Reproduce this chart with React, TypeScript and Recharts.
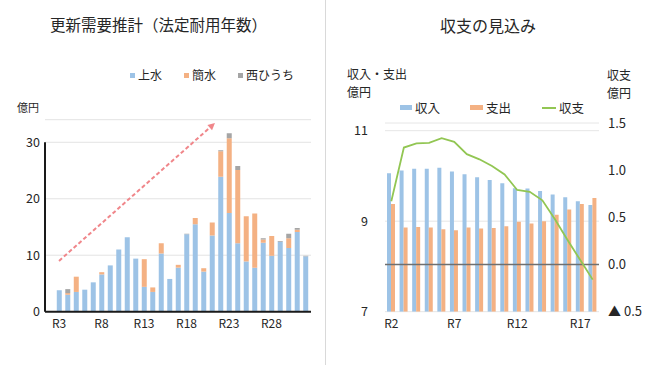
import React from 'react';
import {
  ComposedChart,
  Bar,
  Line,
  XAxis,
  YAxis,
  CartesianGrid,
  ReferenceLine,
} from 'recharts';

// 更新需要推計（法定耐用年数） 億円
const YEARS_L = [3, 4, 5, 6, 7, 8, 9, 10, 11, 12, 13, 14, 15, 16, 17, 18, 19, 20, 21, 22, 23, 24, 25, 26, 27, 28, 29, 30, 31, 32];
const JOSUI = [3.8, 3.0, 3.5, 3.9, 5.2, 6.6, 8.2, 11.0, 13.2, 9.4, 4.4, 3.5, 10.3, 5.8, 7.8, 13.7, 15.5, 7.1, 13.5, 23.9, 17.5, 12.1, 8.9, 7.8, 12.2, 9.9, 12.4, 11.3, 14.1, 9.8];
const KANSUI = [0, 0.3, 2.7, 0, 0, 0.4, 0, 0, 0, 0, 4.9, 0.8, 1.8, 0, 0.5, 0, 1.1, 0.6, 2.3, 4.5, 13.2, 13.0, 8.0, 9.6, 0.6, 3.5, 0, 1.7, 0.4, 0];
const NISHI = [0, 0.7, 0, 0, 0, 0, 0, 0, 0, 0, 0, 0, 0, 0, 0, 0.1, 0, 0, 0, 0.2, 0.9, 0.7, 0, 0, 0.2, 0, 0.1, 0.8, 0.3, 0.1];
const TICKS_L_X = [3, 8, 13, 18, 23, 28];
const TICKS_L_Y = [0, 10, 20, 30];
// 傾向矢印 (年, 億円)
const ARROW_FROM = { x: 3, y: 9.0 };
const ARROW_TO = { x: 21.35, y: 33.4 };

// 収支の見込み
const CATS_R = ['R2', 'R3', 'R4', 'R5', 'R6', 'R7', 'R8', 'R9', 'R10', 'R11', 'R12', 'R13', 'R14', 'R15', 'R16', 'R17', 'R18'];
const INCOME = [10.06, 10.12, 10.16, 10.16, 10.18, 10.1, 10.04, 9.97, 9.91, 9.84, 9.73, 9.72, 9.67, 9.59, 9.53, 9.44, 9.36];
const EXPENSE = [9.38, 8.86, 8.87, 8.86, 8.82, 8.8, 8.86, 8.84, 8.85, 8.89, 8.99, 8.95, 9.0, 9.14, 9.26, 9.38, 9.51];
const BALANCE = [0.67, 1.24, 1.285, 1.29, 1.34, 1.3, 1.17, 1.115, 1.045, 0.955, 0.79, 0.77, 0.68, 0.48, 0.26, 0.05, -0.16];
const TICKS_R_LEFT = [7, 9, 11];
const TICKS_R_RIGHT = [-0.5, 0, 0.5, 1, 1.5];

const BLUE = '#9dc3e6';
const ORANGE = '#f4b183';
const GRAY = '#a5a5a5';
const GREEN = '#92c653';
const ARROW = '#f0868a';
const FONT = '"Noto Sans CJK JP", "Noto Sans", sans-serif';
const TEXT = '#262626';

const leftData = YEARS_L.map((yr, i) => ({
  yr,
  josui: JOSUI[i],
  kansui: KANSUI[i],
  nishi: NISHI[i],
}));

const rightData = CATS_R.map((c, i) => ({
  cat: c,
  income: INCOME[i],
  expense: EXPENSE[i],
  balance: BALANCE[i],
}));

const DashedArrow = (props: any) => {
  const { x1, y1, x2, y2 } = props;
  const ang = Math.atan2(y2 - y1, x2 - x1);
  const head = 7;
  const bx = x2 - head * Math.cos(ang);
  const by = y2 - head * Math.sin(ang);
  const px = Math.sin(ang) * 3.5;
  const py = -Math.cos(ang) * 3.5;
  return (
    <g>
      <line x1={x1} y1={y1} x2={bx} y2={by} stroke={ARROW} strokeWidth={2} strokeDasharray="4 2.5" />
      <polygon points={`${x2},${y2} ${bx + px},${by + py} ${bx - px},${by - py}`} fill={ARROW} />
    </g>
  );
};

const txt = (extra: React.CSSProperties): React.CSSProperties => ({
  position: 'absolute',
  whiteSpace: 'nowrap',
  color: TEXT,
  lineHeight: 1,
  ...extra,
});

const Swatch = ({ color, w, h }: { color: string; w: number; h: number }) => (
  <span style={{ display: 'inline-block', width: w, height: h, background: color, marginRight: 3 }} />
);

export default function App() {
  return (
    <div
      style={{
        position: 'absolute',
        left: 0,
        top: 0,
        width: 650,
        height: 365,
        background: '#fff',
        fontFamily: FONT,
        overflow: 'hidden',
      }}
    >
      {/* 仕切り線 */}
      <div style={{ position: 'absolute', left: 325, top: 0, width: 1, height: 365, background: '#d9d9d9' }} />

      {/* ─── 左：更新需要推計 ─── */}
      <div style={txt({ left: 50, top: 17, fontSize: 15.5 })}>更新需要推計（法定耐用年数）</div>
      <div style={txt({ left: 130, top: 69, fontSize: 12, display: 'flex', alignItems: 'center' })}>
        <span style={{ display: 'flex', alignItems: 'center' }}>
          <Swatch color={BLUE} w={5} h={5} />上水
        </span>
        <span style={{ display: 'flex', alignItems: 'center', marginLeft: 22 }}>
          <Swatch color={ORANGE} w={5} h={5} />簡水
        </span>
        <span style={{ display: 'flex', alignItems: 'center', marginLeft: 22 }}>
          <Swatch color={GRAY} w={5} h={5} />西ひうち
        </span>
      </div>
      <div style={txt({ left: 17, top: 102, fontSize: 11 })}>億円</div>

      <div style={{ position: 'absolute', left: 0, top: 0 }}>
        <ComposedChart
          width={325}
          height={365}
          data={leftData}
          margin={{ top: 119.7, right: 14, left: 0, bottom: 28.3 }}
        >
          <CartesianGrid vertical={false} stroke="#e3e3e3" />
          <XAxis
            type="number"
            dataKey="yr"
            domain={[1.35, 32.65]}
            allowDataOverflow
            ticks={TICKS_L_X}
            tickFormatter={(v) => `R${v}`}
            tickLine={false}
            axisLine={{ stroke: '#1a1a1a', strokeWidth: 2 }}
            tick={{ fontSize: 12, fill: TEXT, fontFamily: FONT }}
            height={25}
          />
          <YAxis
            domain={[0, 34]}
            ticks={TICKS_L_Y}
            axisLine={false}
            tickLine={false}
            tickSize={3}
            tickMargin={2}
            width={45}
            tick={{ fontSize: 12.5, fill: TEXT, fontFamily: FONT }}
          />
          <ReferenceLine
            segment={[{ x: 1.35, y: 0 }, { x: 1.35, y: 30 }]}
            stroke="#1a1a1a"
            strokeWidth={2}
            ifOverflow="visible"
          />
          <Bar dataKey="josui" stackId="a" fill={BLUE} barSize={5} isAnimationActive={false} />
          <Bar dataKey="kansui" stackId="a" fill={ORANGE} barSize={5} isAnimationActive={false} />
          <Bar dataKey="nishi" stackId="a" fill={GRAY} barSize={5} isAnimationActive={false} />
          <ReferenceLine
            segment={[ARROW_FROM, ARROW_TO]}
            ifOverflow="visible"
            shape={DashedArrow}
          />
        </ComposedChart>
      </div>

      {/* ─── 右：収支の見込み ─── */}
      <div style={txt({ left: 440, top: 17, fontSize: 16 })}>収支の見込み</div>
      <div style={txt({ left: 347, top: 68, fontSize: 12 })}>収入・支出</div>
      <div style={txt({ left: 347, top: 86, fontSize: 12 })}>億円</div>
      <div style={txt({ left: 607, top: 69, fontSize: 12 })}>収支</div>
      <div style={txt({ left: 607, top: 87, fontSize: 12 })}>億円</div>
      <div style={txt({ left: 400, top: 101.5, fontSize: 12.5, display: 'flex', alignItems: 'center' })}>
        <span style={{ display: 'flex', alignItems: 'center' }}>
          <Swatch color={BLUE} w={12} h={5} />収入
        </span>
        <span style={{ display: 'flex', alignItems: 'center', marginLeft: 30 }}>
          <Swatch color={ORANGE} w={13} h={5} />支出
        </span>
        <span style={{ display: 'flex', alignItems: 'center', marginLeft: 31 }}>
          <Swatch color={GREEN} w={14} h={1.5} />収支
        </span>
      </div>

      <div style={{ position: 'absolute', left: 325, top: 0 }}>
        <ComposedChart
          width={325}
          height={365}
          data={rightData}
          margin={{ top: 123, right: 0, left: 0, bottom: 28.3 }}
          barGap={0}
        >
          <CartesianGrid vertical={false} yAxisId="l" stroke="#e6e6e6" />
          <XAxis
            dataKey="cat"
            interval={4}
            tickLine={false}
            axisLine={false}
            tick={{ fontSize: 12, fill: TEXT, fontFamily: FONT }}
            height={25}
          />
          <YAxis
            yAxisId="l"
            domain={[7, 11.17]}
            ticks={TICKS_R_LEFT}
            allowDataOverflow
            axisLine={false}
            tickLine={false}
            tickSize={6}
            tickMargin={11}
            width={60}
            tick={{ fontSize: 12.5, fill: TEXT, fontFamily: FONT }}
          />
          <YAxis
            yAxisId="r"
            orientation="right"
            domain={[-0.5, 1.5]}
            ticks={TICKS_R_RIGHT}
            allowDataOverflow
            axisLine={false}
            tickLine={false}
            tickSize={6}
            tickMargin={3}
            width={51}
            tickFormatter={(v: number) => (v < 0 ? `▲ ${Math.abs(v).toFixed(1)}` : v.toFixed(1))}
            tick={{ fontSize: 13, fill: TEXT, fontFamily: FONT, textAnchor: 'start' }}
          />
          <Bar yAxisId="l" dataKey="income" fill={BLUE} barSize={4} isAnimationActive={false} />
          <Bar yAxisId="l" dataKey="expense" fill={ORANGE} barSize={4} isAnimationActive={false} />
          <ReferenceLine yAxisId="r" y={0} stroke="#6f6f6f" strokeWidth={1.5} />
          <Line
            yAxisId="r"
            dataKey="balance"
            stroke={GREEN}
            strokeWidth={1.8}
            dot={false}
            type="linear"
            isAnimationActive={false}
          />
        </ComposedChart>
      </div>
    </div>
  );
}
